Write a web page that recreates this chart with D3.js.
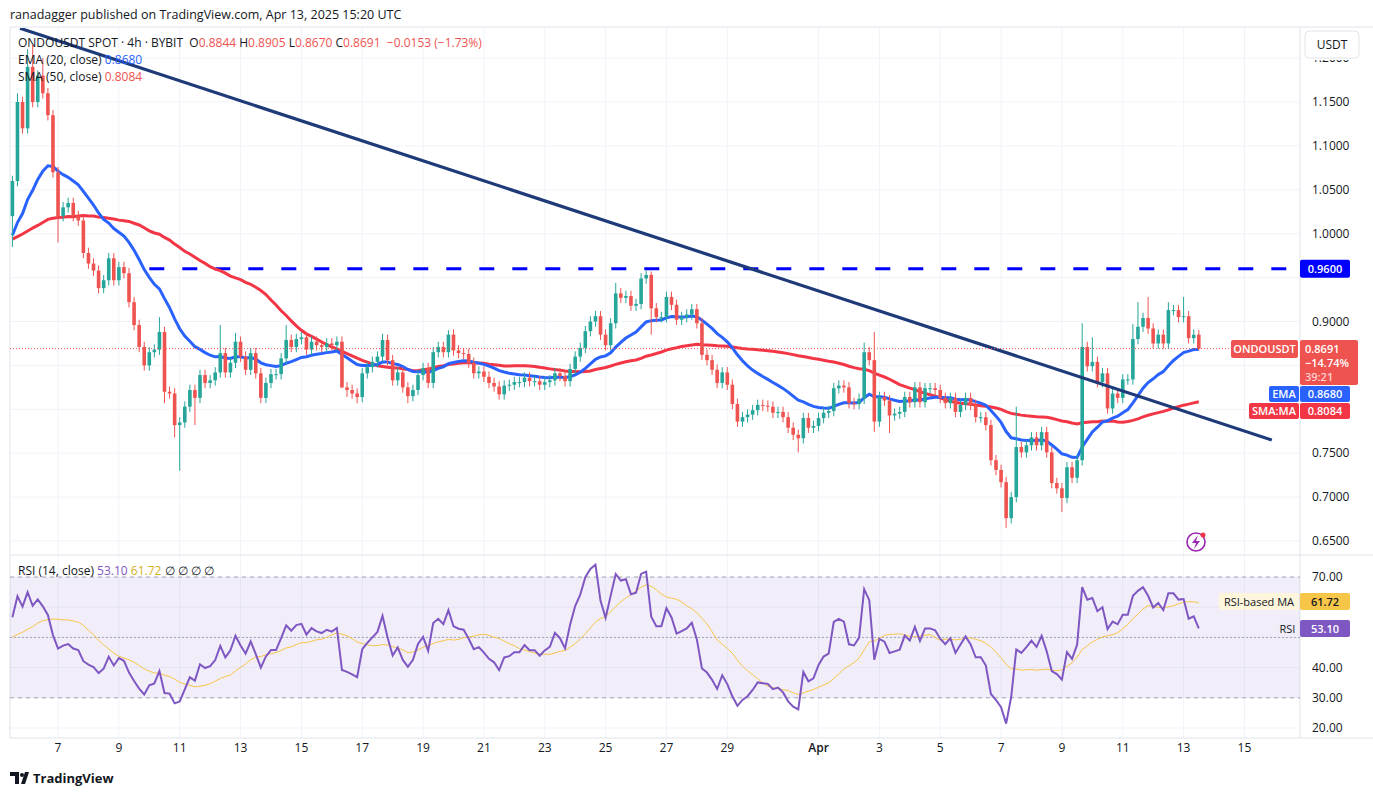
<!DOCTYPE html>
<html><head><meta charset="utf-8">
<script src="https://cdn.jsdelivr.net/npm/d3@7"></script>
<style>body{margin:0;background:#fff;font-family:"Open Sans","Noto Sans",sans-serif}</style>
</head><body><svg id="c" width="1373" height="796"></svg>
<script>
// ---- DATA ----
const priorCloses=[1.01,0.97,1.02,0.98,1.03,0.99,0.96,1.01,0.97,1.02,0.99,1.03,0.98,0.95,0.99,0.96,1.00,0.97,1.02,0.98,1.03,0.99,0.96,1.00,0.97,1.01,1.04,0.99,0.96,1.00,0.97,1.01,0.98,1.02,0.97,1.00,1.03,0.99,1.02,0.98,0.95,0.99,1.02,0.98,0.96,1.00,0.97,1.01,1.00];
const firstOpen=1.02;
const closes=[
1.06,1.15,1.12,1.19,1.15,1.18,1.16,1.135,1.07,1.02,1.03,1.035,1.02,1.015,0.978,0.966,0.958,0.938,0.947,0.972,
0.947,0.962,0.955,0.922,0.896,0.871,0.85,0.865,0.868,0.888,0.82,0.818,0.782,0.785,0.803,0.822,0.813,0.839,0.83,0.833,
0.842,0.864,0.842,0.853,0.877,0.86,0.845,0.864,0.841,0.813,0.83,0.84,0.84,0.858,0.879,0.871,0.88,0.882,0.868,
0.877,0.873,0.871,0.875,0.873,0.877,0.825,0.822,0.818,0.814,0.841,0.848,0.854,0.86,0.879,0.856,0.833,0.842,0.825,0.815,0.822,
0.839,0.847,0.83,0.865,0.871,0.865,0.885,0.867,0.864,0.863,0.853,0.841,0.843,0.837,0.83,0.826,0.817,0.827,0.828,0.831,
0.831,0.836,0.832,0.832,0.828,0.831,0.833,0.841,0.838,0.832,0.846,0.86,0.87,0.889,0.9,0.906,0.885,0.873,
0.898,0.932,0.927,0.929,0.918,0.92,0.949,0.953,0.915,0.905,0.905,0.928,0.919,0.902,0.905,0.908,0.914,0.898,0.862,0.856,
0.845,0.83,0.842,0.828,0.806,0.786,0.791,0.794,0.799,0.805,0.804,0.803,0.796,0.797,0.791,0.779,0.771,0.767,0.79,0.779,
0.781,0.79,0.796,0.798,0.824,0.827,0.825,0.807,0.806,0.812,0.865,0.856,0.786,0.814,0.81,0.793,0.795,0.797,0.814,0.808,
0.825,0.808,0.824,0.824,0.822,0.813,0.807,0.813,0.797,0.805,0.813,0.805,0.791,0.791,0.782,0.742,0.731,0.717,0.676,0.70,
0.757,0.751,0.759,0.768,0.759,0.774,0.751,0.716,0.71,0.699,0.734,0.722,0.742,0.871,0.849,0.854,0.831,0.841,0.801,0.818,
0.813,0.834,0.834,0.88,0.894,0.904,0.892,0.875,0.885,0.875,0.913,0.913,0.905,0.906,0.881,0.885,0.8691];
const wickDefault=0.006;
const highs=[[1,1.16],[3,1.21],[4,1.215],[6,1.20],[29,0.905],[41,0.896],[44,0.887],[54,0.896],[73,0.886],[86,0.89],[119,0.944],[125,0.958],[126,0.957],[168,0.876],[170,0.888],[198,0.803],[211,0.898],[213,0.882],[221,0.897],[222,0.922],[224,0.928],[228,0.922],[231,0.928],[234,0.8905]];
const lows=[[0,0.985],[9,0.99],[30,0.807],[32,0.768],[33,0.73],[36,0.782],[65,0.824],[66,0.814],[68,0.807],[78,0.807],[126,0.885],[155,0.751],[170,0.774],[173,0.773],[196,0.665],[207,0.683],[234,0.867]];
const trendAnchors=[[1.5,1.234],[248.4,0.765]];
const resistance=0.96, resistanceStart=27;
const priceTicks=[0.65,0.70,0.75,0.80,0.85,0.90,0.95,1.00,1.05,1.10,1.15,1.20];
const rsiTicks=[20,30,40,50,60,70];
const dayLabels=["7","9","11","13","15","17","19","21","23","25","27","29","Apr","3","5","7","9","11","13","15"];
const dayLabelIdx=[9,21,33,45,57,69,81,93,105,117,129,141,159,171,183,195,207,219,231,243];

// ---- BUILD ----
const n=closes.length;
const hiMap=new Map(highs), loMap=new Map(lows);
const bars=closes.map((c,i)=>{const o=i?closes[i-1]:firstOpen;
  return {i,o,c,h:hiMap.get(i)??Math.max(o,c)+wickDefault,l:loMap.get(i)??Math.min(o,c)-wickDefault};});
const all=priorCloses.concat(closes), P=priorCloses.length;
let ema=[],e=0;all.forEach((v,k)=>{e=k?v*2/21+e*19/21:v;ema.push(e);});
let sma=all.map((v,k)=>d3.mean(all.slice(Math.max(0,k-49),k+1)));
let rsi=[],ag=0,al=0;
for(let k=1;k<all.length;k++){const d=all[k]-all[k-1],g=Math.max(d,0),l=Math.max(-d,0);
  if(k<=14){ag+=g/14;al+=l/14;}else{ag=(ag*13+g)/14;al=(al*13+l)/14;}
  rsi[k]=al===0?100:100-100/(1+ag/al);}
let rsiMa=rsi.map((v,k)=>k<15?null:d3.mean(rsi.slice(Math.max(1,k-13),k+1)));

const svg=d3.select("#c");
const x=d3.scaleLinear().domain([0,234]).range([12.4,1198.8]);
const y=d3.scaleLinear().domain([0.65,1.15]).range([541,102]);
const yR=d3.scaleLinear().domain([20,70]).range([728,577]);
const L=10,R=1300;
const g=svg.append("g");
priceTicks.forEach(t=>g.append("line").attr("x1",L).attr("x2",R).attr("y1",y(t)).attr("y2",y(t)).attr("stroke","#f0f3fa"));
rsiTicks.forEach(t=>g.append("line").attr("x1",L).attr("x2",R).attr("y1",yR(t)).attr("y2",yR(t)).attr("stroke","#f0f3fa"));
dayLabelIdx.forEach(d=>{const xx=x(d);if(xx<R){g.append("line").attr("x1",xx).attr("x2",xx).attr("y1",27).attr("y2",738).attr("stroke","#f0f3fa");}});
svg.append("line").attr("x1",L).attr("x2",1373).attr("y1",27).attr("y2",27).attr("stroke","#e0e3eb");
svg.append("line").attr("x1",L).attr("x2",1373).attr("y1",555).attr("y2",555).attr("stroke","#e0e3eb");
svg.append("line").attr("x1",L).attr("x2",1373).attr("y1",738).attr("y2",738).attr("stroke","#e0e3eb");
svg.append("line").attr("x1",R).attr("x2",R).attr("y1",27).attr("y2",738).attr("stroke","#e0e3eb");
svg.append("line").attr("x1",L).attr("x2",L).attr("y1",27).attr("y2",738).attr("stroke","#e0e3eb");
svg.append("defs").html('<clipPath id="cp"><rect x="10" y="28" width="1290" height="526"/></clipPath><clipPath id="cr"><rect x="10" y="556" width="1290" height="181"/></clipPath><clipPath id="ct"><rect x="1300" y="60" width="73" height="20"/></clipPath>');
const pg=svg.append("g").attr("clip-path","url(#cp)");
pg.append("line").attr("x1",x(resistanceStart)).attr("x2",R).attr("y1",y(resistance)).attr("y2",y(resistance))
 .attr("stroke","#0000ff").attr("stroke-width",3).attr("stroke-dasharray","15,18");
const lineP=d3.line().x(d=>x(d[0])).y(d=>y(d[1]));
pg.append("path").attr("d",lineP(closes.map((c,i)=>[i,sma[i+P]]))).attr("fill","none").attr("stroke","#f23645").attr("stroke-width",3);
pg.append("path").attr("d",lineP(closes.map((c,i)=>[i,ema[i+P]]))).attr("fill","none").attr("stroke","#2962ff").attr("stroke-width",3);
bars.forEach(b=>{const col=b.c>=b.o?"#26a69a":"#ef5350";
  pg.append("line").attr("x1",x(b.i)).attr("x2",x(b.i)).attr("y1",y(b.h)).attr("y2",y(b.l)).attr("stroke",col).attr("stroke-width",1);
  const t=y(Math.max(b.o,b.c)),bt=y(Math.min(b.o,b.c));
  pg.append("rect").attr("x",x(b.i)-1.8).attr("width",3.6).attr("y",t).attr("height",Math.max(1,bt-t)).attr("fill",col);});
pg.append("line").attr("x1",x(trendAnchors[0][0])).attr("y1",y(trendAnchors[0][1])).attr("x2",x(trendAnchors[1][0])).attr("y2",y(trendAnchors[1][1]))
 .attr("stroke","#1e3a78").attr("stroke-width",3.2);
const last=closes[n-1];
pg.append("line").attr("x1",L).attr("x2",R).attr("y1",y(last)).attr("y2",y(last)).attr("stroke","#ef5350").attr("stroke-dasharray","1,2");
const rg=svg.append("g").attr("clip-path","url(#cr)");
rg.append("rect").attr("x",L).attr("width",R-L).attr("y",yR(70)).attr("height",yR(30)-yR(70)).attr("fill","rgba(126,87,194,0.1)");
[70,50,30].forEach(t=>rg.append("line").attr("x1",L).attr("x2",R).attr("y1",yR(t)).attr("y2",yR(t)).attr("stroke","#787b86").attr("stroke-dasharray",t==50?"2,2":"4,4").attr("stroke-width",1).attr("opacity",0.6));
const lineR=d3.line().defined(d=>d[1]!=null).x(d=>x(d[0])).y(d=>yR(d[1]));
rg.append("path").attr("d",lineR(closes.map((c,i)=>[i,rsiMa[i+P]]))).attr("fill","none").attr("stroke","#f7c548").attr("stroke-width",1);
rg.append("path").attr("d",lineR(closes.map((c,i)=>[i,rsi[i+P]]))).attr("fill","none").attr("stroke","#7e57c2").attr("stroke-width",2);
const tx=(s,xx,yy,o={},par)=>(par||svg).append("text").attr("x",xx).attr("y",yy).text(s).attr("font-size",o.fs||12).attr("fill",o.fill||"#131722").attr("text-anchor",o.a||"start").attr("font-weight",o.w||400);
const busy=[[y(0.96)-9,y(0.96)+9],[340,419],[593,637]];
const free=yy=>!busy.some(([a,b])=>yy+5>a&&yy-5<b);
priceTicks.forEach(t=>{if(y(t)>80&&free(y(t)))tx(t.toFixed(4),1312,y(t)+4);});
// top tick label is cut off under the currency button
const topG=svg.append("g").attr("clip-path","url(#ct)");
tx((1.2).toFixed(4),1312,y(1.2)+4,{},topG);
rsiTicks.forEach(t=>{if(free(yR(t)))tx(t.toFixed(2),1312,yR(t)+4);});
dayLabels.forEach((s,k)=>{const xx=x(dayLabelIdx[k]);if(xx<R)tx(s,xx,752,{a:"middle",w:s=="Apr"?600:400});});
svg.append("rect").attr("x",1305).attr("y",31).attr("width",54).attr("height",27).attr("rx",4).attr("fill","#fff").attr("stroke","#e0e3eb");
tx("USDT",1332,49,{a:"middle"});
tx("ranadagger published on TradingView.com, Apr 13, 2025 15:20 UTC",10,19,{fs:12.5});
const hdr=svg.append("text").attr("x",18).attr("y",47).attr("font-size",12).attr("fill","#131722");
[["ONDOUSDT SPOT · 4h · BYBIT  ","#131722"],["O","#131722"],["0.8844 ","#ef5350"],["H","#131722"],["0.8905 ","#ef5350"],["L","#131722"],["0.8670 ","#ef5350"],["C","#131722"],["0.8691  −0.0153 (−1.73%)","#ef5350"]]
 .forEach(([s,c])=>hdr.append("tspan").attr("fill",c).attr("xml:space","preserve").text(s));
const h2=svg.append("text").attr("x",18).attr("y",64).attr("font-size",12);h2.append("tspan").attr("fill","#131722").text("EMA (20, close) ");h2.append("tspan").attr("fill","#2962ff").text("0.8680");
const h3=svg.append("text").attr("x",18).attr("y",81).attr("font-size",12);h3.append("tspan").attr("fill","#131722").text("SMA (50, close) ");h3.append("tspan").attr("fill","#ef5350").text("0.8084");
const h4=svg.append("text").attr("x",18).attr("y",575).attr("font-size",12);h4.append("tspan").attr("fill","#131722").text("RSI (14, close) ");h4.append("tspan").attr("fill","#7e57c2").text("53.10 ");h4.append("tspan").attr("fill","#d4b01a").text("61.72 ");h4.append("tspan").attr("fill","#131722").text(" ∅  ∅  ∅  ∅");
const box=(xx,yy,w,h,fill,txt,tc,fw)=>{svg.append("rect").attr("x",xx).attr("y",yy).attr("width",w).attr("height",h).attr("rx",2).attr("fill",fill);
  if(txt)tx(txt,xx+w/2,yy+h/2+4,{a:"middle",fill:tc||"#fff",w:fw||600,fs:11});};
box(1300,y(0.96)-9,50,18,"#0000ff","0.9600");
box(1231,340,67,18,"#ef5350","ONDOUSDT");
box(1300,340,58,45,"#ef5350");
tx("0.8691",1305,353,{fill:"#fff",w:600,fs:11});tx("−14.74%",1305,367,{fill:"#fff",w:600,fs:11});tx("39:21",1305,381,{fill:"#ffd0cf",w:600,fs:11});
box(1269,386,30,16,"#2962ff","EMA");box(1300,386,50,16,"#2962ff","0.8680");
box(1249,403,50,16,"#f23645","SMA:MA");box(1300,403,50,16,"#f23645","0.8084");
box(1219,593,80,17,"#fdf6dd","RSI-based MA","#131722",400);box(1300,593,50,17,"#f7c548","61.72","#131722");
box(1276,620,23,17,"#f0ecf8","RSI","#131722",400);box(1300,620,50,17,"#7e57c2","53.10");
svg.append("circle").attr("cx",1196).attr("cy",542).attr("r",9).attr("fill","#fff").attr("stroke","#9c27b0").attr("stroke-width",1.6);
svg.append("path").attr("d","M1198 535 L1192 543 L1196 543 L1194 549 L1200 541 L1196 541 Z").attr("fill","#9c27b0");
svg.append("circle").attr("cx",1203).attr("cy",535).attr("r",2.5).attr("fill","#f23645");
svg.append("path").attr("d","M10 772 h9 v12 h-4 v-8 h-5 z M21 784 l4 -12 h4 l-4 12 z").attr("fill","#131722");
svg.append("circle").attr("cx",22).attr("cy",775).attr("r",2).attr("fill","#131722");
tx("TradingView",33,783,{fs:13,w:700});
</script></body></html>
